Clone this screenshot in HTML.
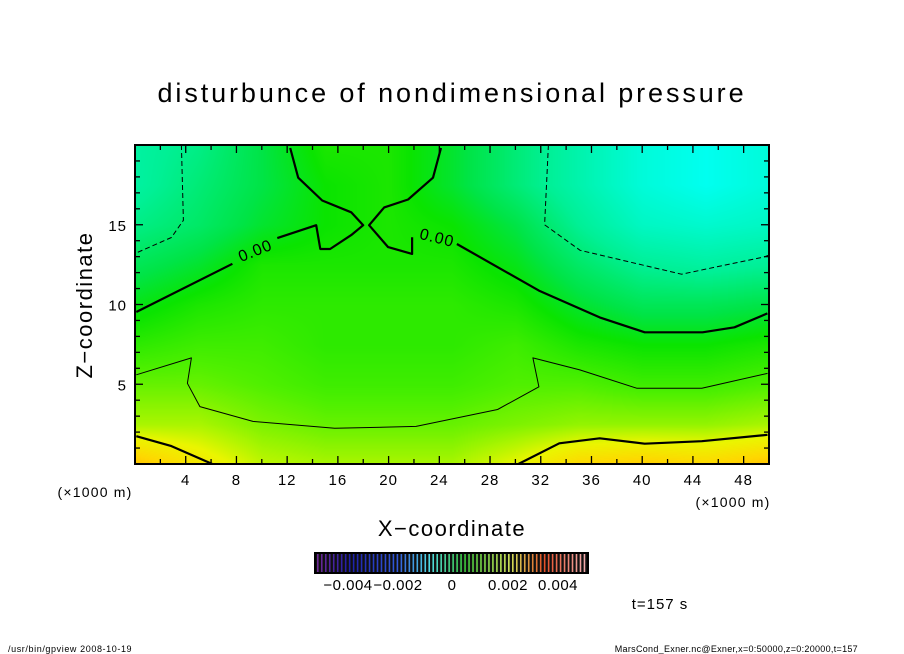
<!DOCTYPE html>
<html><head><meta charset="utf-8"><style>
body{margin:0;background:#fff;width:904px;height:654px;overflow:hidden;font-family:"Liberation Sans",sans-serif}
#wrap{position:relative;width:904px;height:654px}
canvas{position:absolute;left:135px;top:145px}
svg{position:absolute;left:0;top:0}
</style></head><body><div id="wrap">
<canvas id="cv" width="634" height="319"></canvas>
<svg id="sv" width="904" height="654"></svg>
</div>
<script>
const xGrid=[0,5,10,15,20,25,30,35,40,45,50];
const zGrid=[0,2.5,5,7.5,10,12.5,15,17.5,20];
const field=[
[0.0017,0.0013,0.0009,0.0008,0.0008,0.0008,0.0011,0.0015,0.0016,0.0015,0.0017],
[0.0008,0.0008,0.0006,0.0005,0.0005,0.0005,0.0006,0.0007,0.0007,0.0007,0.0008],
[0.0005,0.0005,0.0004,0.0003,0.0003,0.0003,0.0004,0.0004,0.0003,0.0003,0.0004],
[0.0002,0.0003,0.0003,0.0002,0.0002,0.0002,0.0003,0.0001,0,0,0.0001],
[-0.0001,0.0001,0.0002,0.0002,0.0002,0.0002,0.0001,-0.0002,-0.0004,-0.0004,-0.0003],
[-0.0004,-0.0002,0.0001,0.0001,0.0001,0.0001,-0.0001,-0.0005,-0.0008,-0.0009,-0.0008],
[-0.0007,-0.0005,-0.0002,0,0.0001,0,-0.0003,-0.0008,-0.0012,-0.0013,-0.0012],
[-0.0009,-0.0006,-0.0003,0,0.0001,-0.0002,-0.0006,-0.0010,-0.0014,-0.0016,-0.0014],
[-0.0009,-0.0007,-0.0003,0.0001,0.0001,-0.0002,-0.0006,-0.0010,-0.0014,-0.0016,-0.0014]];
const xTicks=[4,8,12,16,20,24,28,32,36,40,44,48];
const zTicks=[5,10,15];
const contourZero=[[0.1,9.53],[7.68,12.55],null,[11.22,14.16],[14.29,14.97],[14.61,13.48],[15.39,13.48],[17.05,14.35],[18.0,14.97],[17.05,15.78],[14.76,16.52],[12.87,17.95],[12.24,19.81]];
const contourZeroR=[[24.13,19.81],[23.5,17.95],[21.54,16.58],[19.65,16.09],[18.46,14.97],[19.96,13.6],[21.85,13.17],[21.85,14.22],null,[25.39,13.79],[31.85,10.87],[36.65,9.19],[40.2,8.26],[44.76,8.26],[47.28,8.57],[49.87,9.44]];
const contourPos1=[[0.1,5.59],[4.45,6.65],[4.13,5.06],[5.12,3.6],[9.3,2.67],[15.75,2.24],[22.17,2.36],[28.6,3.42],[31.85,4.84],[31.38,6.65],[35.08,5.9],[39.57,4.75],[44.7,4.75],[49.88,5.68]];
const contourPos2L=[[0.1,1.74],[2.87,1.12],[6.1,0.0]];
const contourPos2R=[[30.24,0.0],[33.46,1.3],[36.65,1.61],[40.2,1.27],[44.7,1.43],[49.88,1.83]];
const contourNegL=[[3.66,20],[3.82,15.28],[2.87,14.2],[0.0,13.2]];
const contourNegR=[[32.6,20],[32.3,15.0],[35.1,13.4],[43.1,11.9],[49.6,12.98],[50,13.1]];
const cbLabels=["−0.004","−0.002","0","0.002","0.004"];

const X=x=>135+x*12.68, Z=z=>464-z*15.95;
const NS="http://www.w3.org/2000/svg", sv=document.getElementById('sv');
function el(t,a,p){const e=document.createElementNS(NS,t);for(const k in a)e.setAttribute(k,a[k]);(p||sv).appendChild(e);return e;}
const stops=[[-0.0016,[0,255,240]],[-0.0008,[0,240,150]],[-0.0003,[0,228,70]],[0,[10,228,0]],[0.0004,[80,240,0]],[0.0008,[170,245,0]],[0.0011,[235,245,0]],[0.0015,[255,215,0]],[0.0018,[255,185,0]]];
function col(v){if(v<=stops[0][0])return stops[0][1];for(let i=1;i<stops.length;i++){if(v<=stops[i][0]){const t=(v-stops[i-1][0])/(stops[i][0]-stops[i-1][0]);return stops[i-1][1].map((c,j)=>c+(stops[i][1][j]-c)*t);}}return stops[stops.length-1][1];}
function interp(x,z){let i=Math.min(9,Math.floor(x/5)),j=Math.min(7,Math.floor(z/2.5));let tx=(x-xGrid[i])/5,tz=(z-zGrid[j])/2.5;
const a=field[j][i],b=field[j][i+1],c=field[j+1][i],d=field[j+1][i+1];return a*(1-tx)*(1-tz)+b*tx*(1-tz)+c*(1-tx)*tz+d*tx*tz;}
const cv=document.getElementById('cv'),ctx=cv.getContext('2d'),img=ctx.createImageData(634,319);
for(let py=0;py<319;py++)for(let px=0;px<634;px++){const x=Math.max(0,Math.min(50,px/12.68)),z=Math.max(0,Math.min(20,(464-(py+145))/15.95));const c=col(interp(x,z));const k=(py*634+px)*4;img.data[k]=c[0];img.data[k+1]=c[1];img.data[k+2]=c[2];img.data[k+3]=255;}
ctx.putImageData(img,0,0);
function path(pts,w,dash,name){let d="",m=true;for(const p of pts){if(!p){m=true;continue;}d+=(m?"M":"L")+X(p[0]).toFixed(1)+","+Z(p[1]).toFixed(1);m=false;}
const e=el('path',{d:d,fill:'none',stroke:'#000','stroke-width':w,'stroke-linejoin':'round'});if(dash)e.setAttribute('stroke-dasharray',dash);

}
path(contourZero,2.2,null,'contour-zero-left');path(contourZeroR,2.2,null,'contour-zero-right');
path(contourPos1,1,null,'contour-positive-low');path(contourPos2L,2.2,null,'contour-positive-bottom-left');path(contourPos2R,2.2,null,'contour-positive-bottom-right');
path(contourNegL,1,"5,3",'contour-negative-left');path(contourNegR,1,"5,3",'contour-negative-right');
function txt(s,x,y,sz,anch,name,tr,ls){const t=el('text',{x:x,y:y,'font-size':sz,'text-anchor':anch||'middle','font-family':'Liberation Sans, sans-serif',fill:'#000'});if(tr)t.setAttribute('transform',tr);if(ls)t.setAttribute('letter-spacing',ls);t.textContent=s;

return t;}
txt("0.00",255,256,16,'middle','contour-label-left','rotate(-22 255 250)','1');
txt("0.00",437,243,16,'middle','contour-label-right','rotate(14 437 238)','1');
const fr=el('rect',{x:135,y:145,width:634,height:319,fill:'none',stroke:'#000','stroke-width':2});


for(let x=2;x<50;x+=2){const l=x%4==0?8:5;el('line',{x1:X(x),x2:X(x),y1:464,y2:464-l,stroke:'#000','stroke-width':1.3});el('line',{x1:X(x),x2:X(x),y1:145,y2:145+l,stroke:'#000','stroke-width':1.3});}
for(let z=1;z<20;z++){const l=z%5==0?8:5;el('line',{x1:135,x2:135+l,y1:Z(z),y2:Z(z),stroke:'#000','stroke-width':1.3});el('line',{x1:769,x2:769-l,y1:Z(z),y2:Z(z),stroke:'#000','stroke-width':1.3});}
xTicks.forEach(v=>txt(String(v),X(v),485,15,'middle','x-tick-label',null,'1'));
zTicks.forEach(v=>txt(String(v),127,Z(v)+6,15,'end','z-tick-label',null,'1'));
txt("(×1000 m)",95,497,14,'middle','x-unit-left',null,'1.2');
txt("(×1000 m)",733,507,14,'middle','x-unit-right',null,'1.2');
txt("X−coordinate",452,536,22,'middle','x-axis-title',null,'1.5');
txt("Z−coordinate",92,305,22,'middle','z-axis-title','rotate(-90 92 305)','1.5');
txt("disturbunce of nondimensional pressure",452,102,27,'middle','chart-title',null,'2.9');
const cb=el('rect',{x:315,y:553,width:273,height:20,fill:'#101010',stroke:'#000','stroke-width':2});


const cbStops=[[0,[110,40,150]],[0.12,[30,30,170]],[0.3,[50,90,220]],[0.42,[80,220,230]],[0.55,[60,200,60]],[0.72,[210,230,90]],[0.85,[230,80,40]],[1,[240,170,170]]];
function cbc(t){for(let i=1;i<cbStops.length;i++)if(t<=cbStops[i][0]){const u=(t-cbStops[i-1][0])/(cbStops[i][0]-cbStops[i-1][0]);return cbStops[i-1][1].map((c,j)=>Math.round(c+(cbStops[i][1][j]-c)*u));}return cbStops[7][1];}
for(let i=0;i<68;i++){const t=i/67,c=cbc(t);el('rect',{x:317+i*3.98,y:554,width:1.6,height:18,fill:`rgb(${c})`});}
const cbx=[348,398,452,508,558];
cbLabels.forEach((s,i)=>txt(s,cbx[i],590,15,'middle','colorbar-tick-label',null,'0.5'));
txt("t=157 s",660,609,15,'middle','time-label',null,'1');
txt("/usr/bin/gpview   2008-10-19",8,652,9,'start','footer-left',null,'0.6');
txt("MarsCond_Exner.nc@Exner,x=0:50000,z=0:20000,t=157",858,652,9,'end','footer-right',null,'0.3');
</script></body></html>
